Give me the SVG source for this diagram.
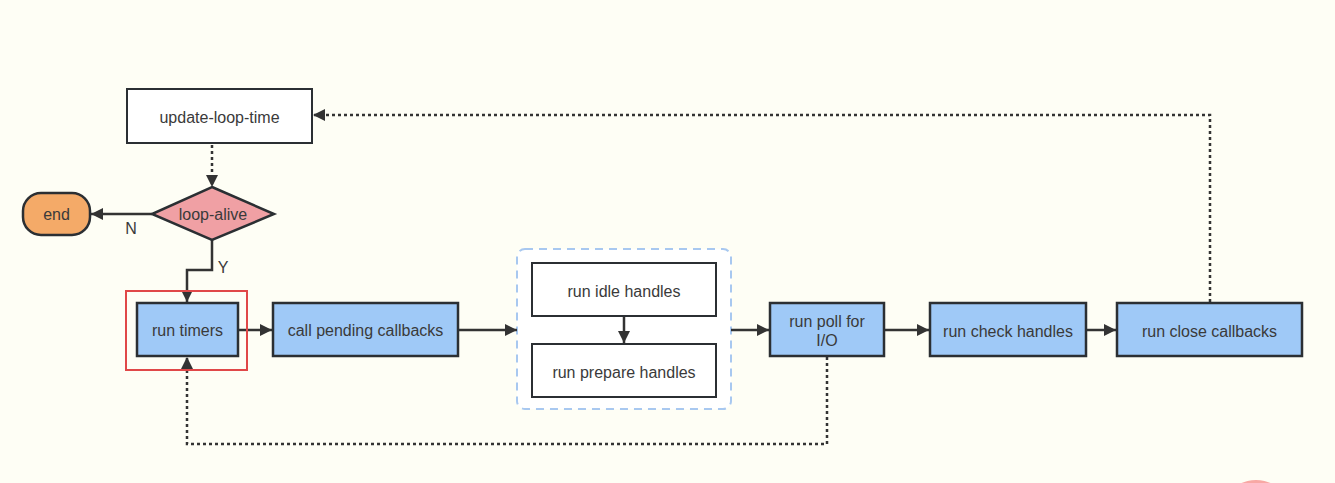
<svg xmlns="http://www.w3.org/2000/svg" width="1335" height="483" viewBox="0 0 1335 483">
<defs>
<style>
.t{font-family:"Liberation Sans",Arial,sans-serif;font-size:16px;fill:#3a3a3a;text-anchor:middle;dominant-baseline:central}
.blue{fill:#9fc9f7;stroke:#2b2f33;stroke-width:2.5}
.white{fill:#fff;stroke:#2b2f33;stroke-width:2}
.ln{fill:none;stroke:#333;stroke-width:2.5}
.dot{fill:none;stroke:#333;stroke-width:2.5;stroke-dasharray:3 3}
</style>
<marker id="ah" viewBox="0 0 10 10" refX="10" refY="5" markerWidth="14" markerHeight="12" markerUnits="userSpaceOnUse" orient="auto"><path d="M0,0 L10,5 L0,10 z" fill="#333"/></marker>
<marker id="ahl" viewBox="0 0 10 10" refX="10" refY="5" markerWidth="18" markerHeight="12" markerUnits="userSpaceOnUse" orient="auto"><path d="M0,0 L10,5 L0,10 z" fill="#333"/></marker>
</defs>
<rect width="1335" height="483" fill="#fefef5"/>
<ellipse cx="1256" cy="492" rx="22" ry="12" fill="#f8a8a4"/>

<g id="group-idle-prepare">
<rect x="517" y="249" width="214" height="160" rx="8" fill="#fff" stroke="#a8c8f0" stroke-width="2" stroke-dasharray="8 6"/>
</g>

<g id="connectors">
<path class="dot" d="M212,145 V187" marker-end="url(#ah)"/>
<path class="ln" d="M152,214 H91" marker-end="url(#ahl)"/>
<text class="t" x="131" y="228">N</text>
<path class="ln" d="M212,240 V270 H187 V302" marker-end="url(#ah)"/>
<text class="t" x="223" y="267">Y</text>
<path class="ln" d="M238,330 H272" marker-end="url(#ahl)"/>
<path class="ln" d="M458,330 H517" marker-end="url(#ahl)"/>
<path class="ln" d="M624,317 V343" marker-end="url(#ah)"/>
<path class="ln" d="M731,330 H769" marker-end="url(#ahl)"/>
<path class="ln" d="M884,330 H929" marker-end="url(#ahl)"/>
<path class="ln" d="M1086,330 H1116" marker-end="url(#ahl)"/>
<path class="dot" d="M1210,302 V115 H313" marker-end="url(#ahl)"/>
<path class="dot" d="M827,357 V444 H187 V357" marker-end="url(#ahl)"/>
</g>

<g id="update-loop-time">
<rect class="white" x="127" y="89" width="185" height="54"/>
<text class="t" x="219.5" y="117">update-loop-time</text>
</g>
<g id="loop-alive">
<polygon points="212,187 274,214 212,240 152,214" fill="#f0a0a4" stroke="#2b2f33" stroke-width="2.5"/>
<text class="t" x="213" y="214">loop-alive</text>
</g>
<g id="end">
<rect x="23" y="193" width="67" height="42" rx="18" fill="#f4aa68" stroke="#2b2f33" stroke-width="2.5"/>
<text class="t" x="56.5" y="214">end</text>
</g>
<g id="run-timers">
<rect x="126" y="291" width="121" height="79" fill="none" stroke="#e04848" stroke-width="2"/>
<rect class="blue" x="137" y="303" width="101" height="53"/>
<text class="t" x="187.5" y="330">run timers</text>
</g>
<g id="call-pending-callbacks">
<rect class="blue" x="273" y="303" width="185" height="53"/>
<text class="t" x="365.5" y="330">call pending callbacks</text>
</g>
<g id="run-idle-handles">
<rect class="white" x="532" y="263" width="184" height="53"/>
<text class="t" x="624" y="291">run idle handles</text>
</g>
<g id="run-prepare-handles">
<rect class="white" x="532" y="344" width="184" height="53"/>
<text class="t" x="624" y="372">run prepare handles</text>
</g>
<g id="run-poll">
<rect class="blue" x="770" y="303" width="114" height="53"/>
<text class="t" x="827" y="321">run poll for</text>
<text class="t" x="827" y="340">I/O</text>
</g>
<g id="run-check-handles">
<rect class="blue" x="930" y="303" width="156" height="53"/>
<text class="t" x="1008" y="331">run check handles</text>
</g>
<g id="run-close-callbacks">
<rect class="blue" x="1117" y="303" width="185" height="53"/>
<text class="t" x="1209.5" y="331">run close callbacks</text>
</g>
</svg>
